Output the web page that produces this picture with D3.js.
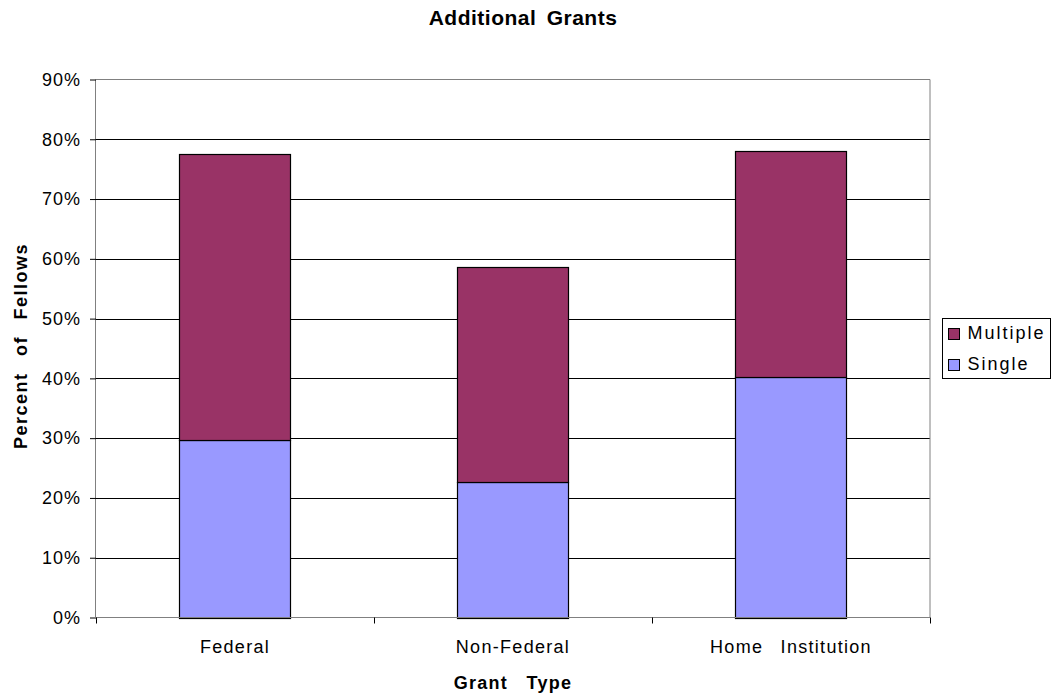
<!DOCTYPE html>
<html><head><meta charset="utf-8">
<script src="https://cdn.jsdelivr.net/npm/d3@7"></script>
<style>body{margin:0;background:#fff}svg{font-family:"Liberation Sans",Arial,sans-serif}</style>
</head><body>
<svg id="c" width="1052" height="694"></svg>
<script>
const categories = ["Federal", "Non-Federal", "Home Institution"];
const singleValues = [29.7, 22.7, 40.3];
const multipleValues = [47.9, 36.0, 37.8];
const seriesNames = ["Single", "Multiple"];
const seriesColors = ["#9999ff", "#993366"];
const yTicks = [0,10,20,30,40,50,60,70,80,90];

const svg = d3.select("#c");
const L = 96, R = 930, T = 79.5, B = 617.5;
const x = d3.scaleBand().domain(categories).range([L, R]).paddingInner(0.6).paddingOuter(0.3);
const xb = d3.scaleBand().domain(categories).range([L, R]);
const y = d3.scaleLinear().domain([0, 90]).range([B, T]);

// gridlines
svg.append("g").selectAll("line").data(yTicks.filter(d => d > 0 && d < 90)).join("line")
  .attr("x1", L).attr("x2", R).attr("y1", d => Math.round(y(d)) + 0.5).attr("y2", d => Math.round(y(d)) + 0.5)
  .attr("stroke", "#000").attr("stroke-width", 1);
// plot border top/right
svg.append("path").attr("d", `M${L},${T}H${R}V${B}`).attr("fill", "none").attr("stroke", "#808080").attr("stroke-width", 1);

const data = categories.map((c, i) => ({cat: c, Single: singleValues[i], Multiple: multipleValues[i]}));
const stack = d3.stack().keys(seriesNames)(data);
svg.append("g").selectAll("g").data(stack).join("g")
  .attr("fill", (d, i) => seriesColors[i])
  .selectAll("rect").data(d => d).join("rect")
  .attr("x", d => Math.round(x(d.data.cat)) + 0.5)
  .attr("width", Math.round(x.bandwidth()))
  .attr("y", d => Math.round(y(d[1])) + 0.5)
  .attr("height", d => Math.round(y(d[0])) - Math.round(y(d[1])))
  .attr("stroke", "#000").attr("stroke-width", 1.2);

// y axis
const yAxis = d3.axisLeft(y).tickValues(yTicks).tickFormat(d => d + "%").tickSize(6).tickPadding(9);
const ya = svg.append("g").attr("transform", `translate(${L},0)`).call(yAxis);
ya.select(".domain").attr("stroke", "#808080").attr("d", `M-0.5,${T}V${B}`);
ya.selectAll(".tick line").attr("stroke", "#000");
ya.selectAll("text").style("font-size", "18px").style("letter-spacing", "1px").attr("fill", "#000")
  .style("font-family", "'Liberation Sans', Arial, sans-serif");

// x axis
const xa = svg.append("g").attr("transform", `translate(0,${B})`);
xa.append("line").attr("x1", L - 6).attr("x2", R).attr("y1", 0).attr("y2", 0).attr("stroke", "#808080");
const bounds = categories.map(c => xb(c)).concat([R]);
xa.selectAll(".tk").data(bounds).join("line").attr("class", "tk")
  .attr("x1", d => Math.round(d) + 0.5).attr("x2", d => Math.round(d) + 0.5).attr("y1", 0).attr("y2", 6).attr("stroke", "#000");
xa.selectAll(".lb").data(categories).join("text").attr("class", "lb")
  .attr("x", d => xb(d) + xb.bandwidth() / 2).attr("y", 35.5)
  .attr("text-anchor", "middle").style("font-size", "18px").style("letter-spacing", "1.3px").style("word-spacing", "11px")
  .text(d => d);

// titles
svg.append("text").attr("x", 523).attr("y", 25).attr("text-anchor", "middle")
  .style("font-size", "21px").attr("font-weight", "bold").style("letter-spacing", "0.5px").style("word-spacing", "4px")
  .text("Additional Grants");
svg.append("text").attr("x", 513).attr("y", 689).attr("text-anchor", "middle")
  .style("font-size", "18px").attr("font-weight", "bold").style("letter-spacing", "1.3px").style("word-spacing", "12px")
  .text("Grant Type");
svg.append("text").attr("transform", "translate(27,346) rotate(-90)").attr("text-anchor", "middle")
  .style("font-size", "18px").attr("font-weight", "bold").style("letter-spacing", "1.5px").style("word-spacing", "10px")
  .text("Percent of Fellows");

// legend
const lg = svg.append("g");
lg.append("rect").attr("x", 942.5).attr("y", 318.5).attr("width", 108).attr("height", 60)
  .attr("fill", "#fff").attr("stroke", "#000");
const legendItems = [{name: "Multiple", color: seriesColors[1]}, {name: "Single", color: seriesColors[0]}];
const li = lg.selectAll("g").data(legendItems).join("g")
  .attr("transform", (d, i) => `translate(948,${328 + i * 31})`);
li.append("rect").attr("x", 0.5).attr("y", 0.5).attr("width", 11).attr("height", 11)
  .attr("fill", d => d.color).attr("stroke", "#000");
li.append("text").attr("x", 19.5).attr("y", 10.5).style("font-size", "18px").style("letter-spacing", "2px").text(d => d.name);
</script>
</body></html>
